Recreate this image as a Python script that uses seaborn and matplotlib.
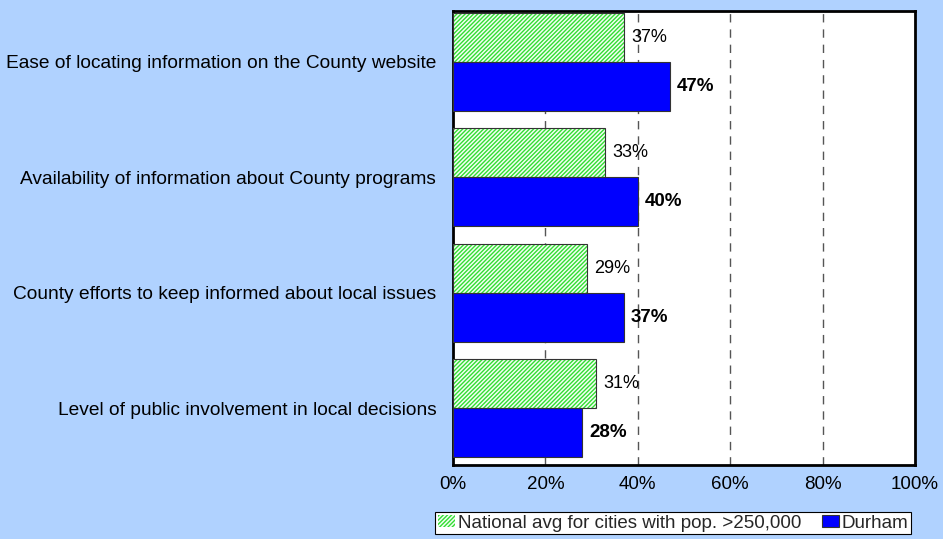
import pandas as pd
import seaborn as sns
import matplotlib.pyplot as plt
from matplotlib.patches import Patch, Rectangle

categories = [
    "Ease of locating information on the County website",
    "Availability of information about County programs",
    "County efforts to keep informed about local issues",
    "Level of public involvement in local decisions",
]
national = [37, 33, 29, 31]
durham = [47, 40, 37, 28]
series_names = ["National avg for cities with pop. >250,000", "Durham"]
x_ticks = [0, 20, 40, 60, 80, 100]

bg = "#B0D2FF"
green_face = "#F2FFF2"
green_hatch = "#33DD33"
blue = "#0000FF"

df = pd.DataFrame({
    "item": categories * 2,
    "series": [series_names[0]] * 4 + [series_names[1]] * 4,
    "value": national + durham,
})

sns.set_theme(style="white")
plt.rcParams["font.family"] = ["Liberation Sans", "DejaVu Sans"]
plt.rcParams["hatch.linewidth"] = 1.0

fig = plt.figure(figsize=(9.43, 5.39), dpi=100, facecolor=bg)
ax = fig.add_axes([0.4804, 0.1373, 0.4899, 0.8423])
ax.set_facecolor("white")

sns.barplot(data=df, y="item", x="value", hue="series", order=categories,
            hue_order=series_names, palette=[green_face, blue], width=0.85,
            orient="h", ax=ax, legend=False, zorder=3, saturation=1)

# green bars: hatch in green, outline in dark grey
for p in ax.containers[0]:
    p.set_edgecolor(green_hatch)
    p.set_hatch("////////")
    p.set_linewidth(0)
    ax.add_patch(Rectangle(p.get_xy(), p.get_width(), p.get_height(), fill=False,
                           edgecolor="#333333", linewidth=0.8, zorder=4))
for p in ax.containers[1]:
    p.set_edgecolor("#333333")
    p.set_linewidth(0.8)

ax.bar_label(ax.containers[0], labels=[f"{v}%" for v in national], padding=5,
             fontsize=13, color="black", zorder=5)
ax.bar_label(ax.containers[1], labels=[f"{v}%" for v in durham], padding=5,
             fontsize=13.5, fontweight="bold", color="black", zorder=5)

ax.set_xlim(0, 100)
ax.set_ylim(3.494, -0.442)
ax.set_xticks(x_ticks)
ax.set_xticklabels([f"{t}%" for t in x_ticks], fontsize=13.5, color="black")
ax.tick_params(axis="x", length=0, pad=8)
ax.tick_params(axis="y", length=0, pad=12, labelsize=13.75, labelcolor="black")
ax.set_xlabel("")
ax.set_ylabel("")

for t in x_ticks[1:-1]:
    ax.axvline(t, color="#555555", linestyle=(0, (6, 5)), linewidth=1.0, zorder=1)

for s in ax.spines.values():
    s.set_visible(True)
    s.set_color("black")
    s.set_linewidth(2)

handles = [
    Patch(facecolor=green_face, edgecolor=green_hatch, hatch="////////", linewidth=0),
    Patch(facecolor=blue, edgecolor="#333333", linewidth=0.8),
]
leg = fig.legend(handles, series_names, loc="center", bbox_to_anchor=(0.7137, 0.0295),
                 ncol=2, fontsize=13.5, frameon=True, fancybox=False, framealpha=1,
                 edgecolor="black", handlelength=0.95, handleheight=0.55,
                 handletextpad=0.12, columnspacing=1.1, borderpad=0.15,
                 borderaxespad=0)
leg.get_frame().set_linewidth(0.8)

fig.savefig("out.png", dpi=100, facecolor=bg)
